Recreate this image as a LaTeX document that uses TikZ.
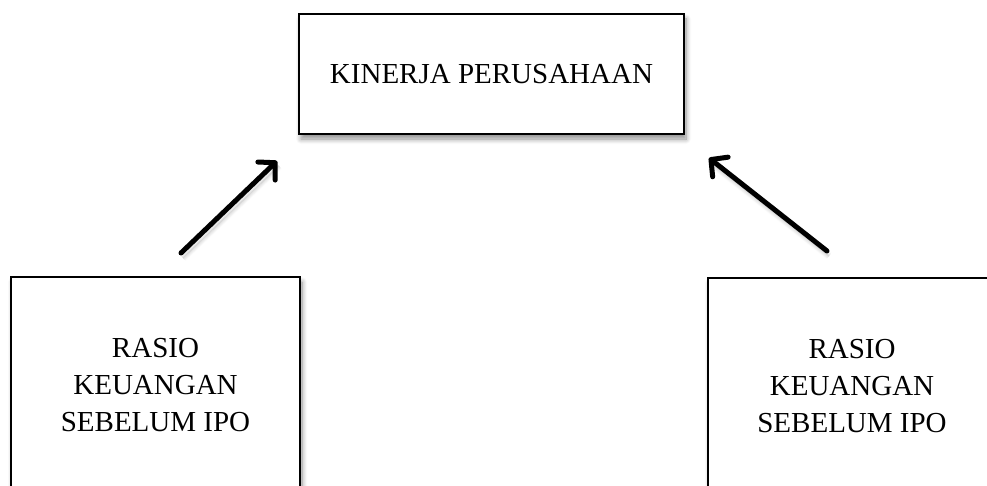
\documentclass[tikz,border=0pt]{standalone}
\usepackage{fontspec}
\setmainfont{Liberation Serif}
\usetikzlibrary{arrows.meta,shadows.blur}
\begin{document}
\begin{tikzpicture}[x=1pt,y=-1pt,
  box/.style={draw=black, line width=1.6pt, fill=white, inner sep=0pt,
    blur shadow={shadow xshift=2pt, shadow yshift=-5pt, shadow blur steps=8, shadow opacity=45, shadow blur radius=5pt},
    font=\fontsize{29}{37}\selectfont, align=center},
  conn/.style={line width=5pt, line cap=round, -{Straight Barb[length=12pt,width=25pt,round]},
    blur shadow={shadow xshift=2pt, shadow yshift=-5pt, shadow blur steps=6, shadow opacity=30, shadow blur radius=4pt}}
]
\useasboundingbox (0,0) rectangle (987,486);
\node[box, minimum width=385pt, minimum height=120pt] (top) at (491.5,74) {KINERJA PERUSAHAAN};
\node[box, minimum width=289pt, minimum height=216pt] (left) at (155.5,385) {RASIO\\KEUANGAN\\SEBELUM IPO};
\node[box, minimum width=288pt, minimum height=216pt] (right) at (852,386) {RASIO\\KEUANGAN\\SEBELUM IPO};
\coordinate (ls) at (181,253);
\coordinate (le) at (277,161);
\coordinate (rs) at (827,251);
\coordinate (re) at (709,158);
\draw[conn] (ls) -- (le);
\draw[conn] (rs) -- (re);
\end{tikzpicture}
\end{document}
